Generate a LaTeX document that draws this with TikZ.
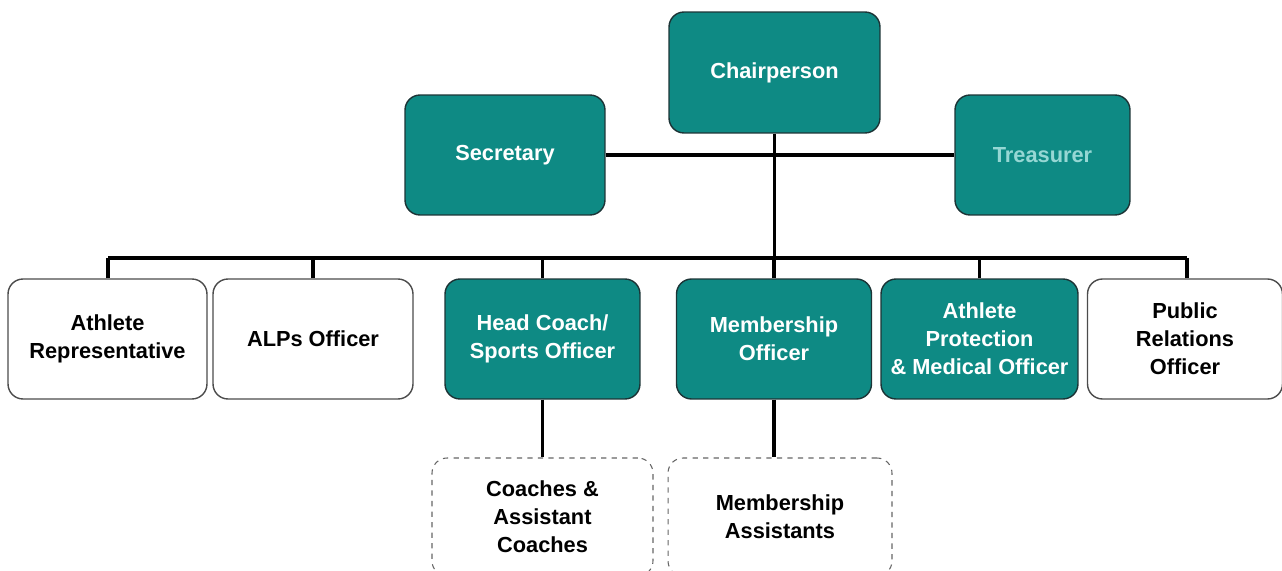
\documentclass[tikz,border=0pt]{standalone}
\usepackage{fontspec}
\setmainfont{Liberation Sans}
\usetikzlibrary{positioning,calc}

\definecolor{tealfill}{RGB}{14,138,132}
\definecolor{tealedge}{RGB}{28,52,54}
\definecolor{paletext}{RGB}{150,215,212}

\begin{document}
\begin{tikzpicture}[x=0.02cm,y=-0.02cm,
          every node/.style={align=center,font=\fontsize{12.4}{16}\selectfont\bfseries,
                             rounded corners=0.3cm,inner sep=2pt},
          role/.style={draw=tealedge,fill=tealfill,text=white,line width=0.8pt},
          member/.style={draw=black!70,fill=white,line width=0.8pt},
          helper/.style={draw=black!60,fill=white,dashed,line width=0.6pt},
          link/.style={draw=black,line width=2.2pt}]

                \useasboundingbox (0,0) rectangle (1282,571);

                % top level
                \node[role,minimum width=4.22cm,minimum height=2.42cm] (chair) at (774.5,72.5) {Chairperson};
                \node[role,minimum width=4cm,minimum height=2.4cm] (sec) at (505,155) {Secretary};
                \node[role,minimum width=3.5cm,minimum height=2.4cm,text=paletext] (treas) at (1042.5,155) {Treasurer};

                % second row
                \node[member,minimum width=3.98cm,minimum height=2.4cm] (athrep) at (107.5,339) {Athlete\\Representative};
                \node[member,minimum width=4cm,minimum height=2.4cm] (alps) at (313,339) {ALPs Officer};
                \node[role,minimum width=3.9cm,minimum height=2.4cm] (coach) at (542.5,339) {Head Coach/\\Sports Officer};
                \node[role,minimum width=3.9cm,minimum height=2.4cm] (memb) at (774,339) {Membership\\Officer};
                \node[role,minimum width=3.94cm,minimum height=2.4cm] (protect) at (979.5,339) {Athlete\\Protection\\\& Medical Officer};
                \node[member,minimum width=3.9cm,minimum height=2.4cm] (pubrel) at (1185,339) {Public\\Relations\\Officer};

                % helpers
                \node[helper,minimum width=4.42cm,minimum height=2.36cm] (coaches) at (542.5,517) {Coaches \&\\Assistant\\Coaches};
                \node[helper,minimum width=4.48cm,minimum height=2.36cm] (membasst) at (780,517) {Membership\\Assistants};

                \coordinate (busL) at (108,258);
                \coordinate (busR) at (1187,258);

                \draw[link] (sec.east) -- (treas.west);
                \draw[link] (chair.south) -- (chair.south |- busL);
                \draw[link] (busL) -- (busR);
                \draw[link] (athrep.north -| busL) -- (busL);
                \draw[link] (alps.north) -- (alps.north |- busL);
                \draw[link] (coach.north) -- (coach.north |- busL);
                \draw[link] (memb.north) -- (memb.north |- busL);
                \draw[link] (protect.north) -- (protect.north |- busL);
                \draw[link] (pubrel.north -| busR) -- (busR);
                \draw[link] (coach.south) -- (coaches.north);
                \draw[link] (memb.south) -- (memb.south |- membasst.north);
              \end{tikzpicture}
\end{document}
